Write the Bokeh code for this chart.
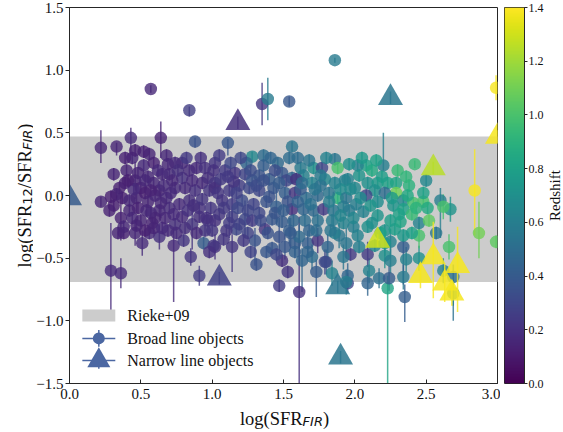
import math
import numpy as np
from bokeh.plotting import figure
from bokeh.models import ColumnDataSource, LinearColorMapper, FixedTicker, Label, Range1d
from bokeh.transform import transform
from bokeh.palettes import Viridis256
from bokeh.layouts import row, column
from bokeh.embed import file_html
from bokeh.resources import INLINE
from bokeh.core.properties import value

# ---------------- data ----------------
# Broad line objects
bl_x = [0.57, 0.84, 1.35, 1.39, 1.54, 1.86, 2.99, 0.22, 0.33, 0.43,
        0.64, 0.88, 1.11, 1.56, 1.28, 1.36, 0.31, 1.86, 2.20, 2.42,
        2.08, 2.84, 0.22, 0.29, 0.36, 0.91, 1.47, 1.61, 0.73, 0.85,
        2.23, 2.35, 2.69, 2.87, 2.99, 2.66, 2.62, 2.36, 2.45, 2.34,
        2.17, 2.09, 1.95, 2.25, 2.34, 2.50, 2.60, 2.67, 2.62, 2.45,
        2.69, 2.21, 2.21, 2.24, 2.10, 1.97, 2.09, 1.95, 2.25, 1.94,
        1.84, 1.80, 1.73, 1.53, 1.49, 1.31, 1.38, 1.30, 1.14, 1.02,
        0.94, 1.01, 0.80, 0.63, 0.56, 0.46, 0.38, 1.70, 1.63, 1.58,
        1.67, 1.74, 1.51, 1.79, 1.92, 1.81, 1.89, 1.61, 1.54, 1.37,
        1.17, 2.03, 2.14, 2.40, 2.21, 2.28, 2.09, 1.99, 2.34, 2.32,
        0.35, 0.39, 0.46, 0.50, 0.37, 0.42, 0.47, 0.53, 0.59, 0.44,
        0.46, 0.56, 0.52, 0.59, 0.42, 0.36, 0.44, 0.50, 0.53, 0.57,
        0.31, 0.33, 0.28, 0.40, 0.55, 0.48, 0.55, 0.58, 0.38, 0.51,
        0.45, 0.60,
        0.65, 0.70, 0.63, 0.68, 0.74, 0.79, 0.84, 0.89, 0.95, 0.68,
        0.74, 0.79, 0.63, 0.70, 0.59, 0.65, 0.97, 0.74, 0.79, 0.86,
        0.91, 0.95, 0.77, 0.84, 0.88, 0.93, 0.98, 0.86, 0.72, 0.91,
        0.99, 0.97, 0.82, 0.66, 0.75, 0.92, 0.89, 0.67, 0.83,
        1.02, 1.01, 1.09, 1.16, 1.23, 1.02, 1.02, 1.12, 1.19, 1.26,
        1.07, 1.14, 1.21, 1.29, 1.02, 1.05, 1.14, 1.23, 1.28, 1.24,
        1.06, 1.18, 1.10, 1.25, 1.20, 1.15, 1.28, 1.00, 1.22,
        1.33, 1.40, 1.49, 1.56, 1.33, 1.43, 1.51, 1.58, 1.38, 1.45,
        1.56, 1.34, 1.42, 1.49, 1.57, 1.36, 1.46, 1.52, 1.47, 1.54,
        1.44, 1.33, 1.53, 1.42, 1.58,
        1.64, 1.59, 1.70, 1.71, 1.77, 1.79, 1.88, 1.88, 1.93, 1.66,
        1.74, 1.82, 1.64, 1.71, 1.78, 1.85, 1.92, 1.65, 1.74, 1.84,
        1.92, 1.68, 1.80, 1.62, 1.76, 1.90, 1.68, 1.86, 1.62,
        2.02, 1.95, 2.03, 2.09, 2.16, 2.23, 2.29, 2.29, 2.34, 2.41,
        2.48, 2.00, 2.14, 2.21, 2.08, 1.94, 2.01, 2.16, 2.27, 2.34,
        1.96, 2.06, 2.16, 2.25, 2.45, 2.12, 2.30, 2.38, 2.05, 2.40,
        2.18, 2.52, 2.48, 2.57,
        0.48, 0.53, 0.62, 0.57, 0.64, 0.71, 0.76, 0.81, 0.87, 0.73,
        0.60, 0.54, 0.47, 0.69, 0.81, 0.93, 0.96, 1.04, 1.08, 1.11,
        1.17, 1.12, 1.19, 1.25, 1.27, 1.31, 1.36, 1.40, 1.47, 1.44,
        1.50, 1.39, 1.55, 1.60, 1.63, 1.69, 1.73, 1.76, 1.82, 1.86,
        1.83, 1.90, 1.97, 1.99, 2.04, 2.11, 2.19, 2.26, 2.31, 2.37,
        2.12, 2.02, 1.94, 1.67, 1.45, 1.27, 1.08, 0.98, 0.69, 0.52,
        0.41, 0.34, 0.29, 0.39, 1.05, 1.13, 1.41, 1.60, 1.72, 1.96,
        2.15, 2.36, 2.43, 2.51]
bl_y = [0.85, 0.68, 0.73, 0.77, 0.75, 1.08, 0.86, 0.38, 0.39, 0.46,
        0.46, 0.43, 0.42, 0.39, 0.31, 0.32, 0.17, 0.29, 0.24, 0.25,
        0.24, 0.04, -0.05, -0.60, -0.62, -0.64, -0.72, -0.77, -0.40, -0.49,
        -0.74, -0.81, -0.65, -0.30, -0.37, -0.41, -0.60, -0.51, -0.50, -0.65,
        -0.66, -0.70, -0.70, -0.37, -0.41, 0.12, -0.04, -0.11, -0.09, -0.32,
        -0.78, -0.38, -0.48, -0.66, -0.60, -0.47, -0.47, -0.64, -0.52, -0.69,
        -0.62, -0.53, -0.61, -0.61, -0.52, -0.55, -0.45, -0.36, -0.41, -0.41,
        -0.38, -0.40, -0.36, -0.33, -0.30, -0.30, -0.30, -0.49, -0.52, -0.38,
        -0.38, -0.36, -0.41, -0.53, -0.49, -0.41, -0.32, -0.33, -0.28, -0.27,
        -0.27, -0.41, -0.40, -0.30, -0.28, -0.27, -0.25, -0.25, -0.32, -0.21,
        0.06, 0.10, 0.12, 0.06, -0.02, -0.04, -0.02, 0.02, 0.10, 0.30,
        0.36, 0.33, 0.24, 0.26, -0.12, -0.18, -0.18, -0.20, -0.28, -0.14,
        -0.08, 0.01, -0.12, 0.20, 0.15, -0.10, -0.05, -0.22, -0.25, -0.38,
        0.05, 0.00,
        0.17, 0.17, 0.04, -0.02, 0.06, 0.14, 0.20, 0.22, 0.22, 0.32,
        0.26, 0.26, -0.12, -0.10, -0.26, -0.26, -0.20, -0.23, -0.17, -0.23,
        -0.17, -0.28, -0.07, -0.04, 0.04, 0.10, 0.04, 0.12, 0.12, -0.10,
        -0.10, 0.14, 0.30, 0.08, -0.30, 0.30, -0.30, -0.18, -0.12,
        0.26, 0.20, 0.20, 0.18, 0.17, 0.10, 0.06, 0.04, 0.08, 0.06,
        -0.04, -0.07, -0.04, -0.07, -0.20, -0.15, -0.17, -0.19, -0.20, 0.26,
        0.13, -0.10, -0.28, -0.30, 0.30, 0.11, 0.12, -0.28, -0.36,
        0.16, 0.13, 0.18, 0.14, 0.04, 0.06, 0.02, 0.02, -0.05, -0.09,
        -0.11, -0.20, -0.19, -0.21, -0.20, 0.24, 0.26, 0.12, -0.33, 0.30,
        0.20, -0.14, -0.05, -0.42, -0.45,
        0.16, 0.13, 0.10, 0.22, 0.22, 0.13, 0.22, -0.02, 0.12, -0.02,
        0.00, 0.02, -0.11, -0.12, -0.11, -0.12, -0.09, -0.20, -0.20, -0.20,
        -0.22, 0.28, 0.30, 0.05, 0.08, 0.05, -0.28, -0.30, 0.22,
        0.24, 0.13, 0.16, 0.10, 0.10, 0.10, 0.10, 0.02, -0.04, -0.06,
        -0.05, 0.06, 0.04, 0.02, 0.00, -0.02, -0.07, -0.05, -0.08, -0.11,
        -0.12, -0.13, -0.16, -0.20, -0.22, 0.20, 0.20, 0.08, 0.30, -0.15,
        -0.30, -0.20, 0.02, -0.30,
        0.18, 0.12, 0.20, 0.04, -0.06, 0.02, 0.20, 0.06, -0.08, -0.15,
        -0.18, -0.12, -0.24, -0.28, -0.26, -0.03, -0.18, 0.02, -0.10, 0.15,
        0.02, -0.22, -0.23, -0.12, 0.20, 0.08, 0.12, -0.01, 0.10, -0.14,
        -0.12, -0.30, -0.30, -0.05, 0.10, -0.07, -0.28, 0.16, -0.05, 0.10,
        -0.28, -0.16, 0.05, -0.18, -0.02, -0.08, 0.15, -0.02, -0.15, 0.00,
        -0.22, -0.32, -0.38, -0.45, -0.47, -0.45, -0.35, -0.45, 0.25, 0.35,
        0.12, -0.30, -0.01, 0.30, 0.32, 0.26, 0.30, 0.30, 0.05, 0.25,
        0.28, 0.15, -0.10, -0.10]
bl_z = [0.16, 0.26, 0.22, 0.58, 0.38, 0.58, 1.38, 0.15, 0.15, 0.18,
        0.14, 0.35, 0.38, 0.55, 0.65, 0.50, 0.15, 0.55, 0.60, 0.95,
        0.80, 1.38, 0.15, 0.17, 0.17, 0.25, 0.25, 0.20, 0.18, 0.22,
        0.82, 0.42, 0.52, 1.10, 1.05, 1.00, 0.62, 0.62, 0.70, 0.58,
        0.52, 0.45, 0.30, 0.62, 0.42, 0.65, 0.60, 0.72, 1.00, 1.00,
        0.60, 0.72, 0.70, 0.40, 0.62, 0.25, 0.25, 0.45, 0.60, 0.60,
        0.62, 0.38, 0.40, 0.22, 0.20, 0.35, 0.38, 0.35, 0.22, 0.20,
        0.40, 0.22, 0.22, 0.20, 0.18, 0.16, 0.14, 0.50, 0.45, 0.40,
        0.42, 0.22, 0.38, 0.30, 0.55, 0.45, 0.55, 0.48, 0.42, 0.22,
        0.30, 0.60, 0.65, 0.80, 0.72, 0.78, 0.70, 0.60, 0.75, 0.82,
        0.13, 0.14, 0.15, 0.14, 0.13, 0.16, 0.15, 0.13, 0.16, 0.16,
        0.14, 0.15, 0.17, 0.14, 0.15, 0.14, 0.16, 0.15, 0.13, 0.17,
        0.13, 0.15, 0.14, 0.15, 0.16, 0.14, 0.15, 0.14, 0.16, 0.18,
        0.17, 0.16,
        0.16, 0.18, 0.15, 0.17, 0.18, 0.20, 0.18, 0.17, 0.20, 0.16,
        0.18, 0.17, 0.16, 0.18, 0.15, 0.17, 0.21, 0.19, 0.18, 0.21,
        0.19, 0.22, 0.17, 0.19, 0.20, 0.18, 0.21, 0.17, 0.16, 0.20,
        0.22, 0.19, 0.24, 0.18, 0.18, 0.20, 0.18, 0.16, 0.20,
        0.22, 0.20, 0.24, 0.22, 0.28, 0.21, 0.19, 0.24, 0.26, 0.30,
        0.22, 0.25, 0.32, 0.28, 0.20, 0.22, 0.26, 0.30, 0.25, 0.45,
        0.23, 0.30, 0.22, 0.28, 0.30, 0.21, 0.35, 0.22, 0.24,
        0.35, 0.40, 0.38, 0.45, 0.30, 0.38, 0.42, 0.22, 0.35, 0.42,
        0.20, 0.32, 0.38, 0.40, 0.45, 0.42, 0.48, 0.30, 0.35, 0.50,
        0.33, 0.30, 0.36, 0.38, 0.43,
        0.62, 0.20, 0.62, 0.70, 0.30, 0.65, 1.00, 0.90, 0.62, 0.50,
        0.48, 0.55, 0.45, 0.48, 0.25, 0.55, 0.60, 0.50, 0.52, 0.58,
        0.62, 0.55, 0.62, 0.40, 0.52, 0.68, 0.45, 0.60, 0.58,
        0.62, 0.62, 0.72, 0.70, 0.75, 0.80, 0.82, 1.10, 0.65, 1.00,
        1.00, 0.65, 0.70, 0.50, 0.30, 0.55, 0.60, 0.68, 0.72, 0.80,
        0.58, 0.62, 0.72, 0.78, 0.62, 0.85, 0.95, 0.90, 0.75, 0.95,
        0.80, 1.05, 0.80, 0.55,
        0.15, 0.16, 0.17, 0.14, 0.16, 0.17, 0.19, 0.18, 0.19, 0.17,
        0.15, 0.16, 0.15, 0.18, 0.19, 0.21, 0.20, 0.22, 0.23, 0.24,
        0.27, 0.25, 0.27, 0.29, 0.33, 0.32, 0.34, 0.36, 0.40, 0.37,
        0.41, 0.36, 0.40, 0.44, 0.50, 0.52, 0.50, 0.58, 0.60, 0.62,
        0.55, 0.63, 0.66, 0.64, 0.68, 0.72, 0.78, 0.75, 0.80, 0.85,
        0.70, 0.62, 0.55, 0.45, 0.30, 0.28, 0.22, 0.20, 0.16, 0.14,
        0.13, 0.15, 0.13, 0.14, 0.25, 0.30, 0.45, 0.50, 0.55, 0.70,
        0.80, 0.92, 0.90, 0.85]
bl_err_lo = [0.03, 0.05, 0.17, 0.17, 0.04, 0.02, 0.10, 0.12, 0.07, 0.14,
             0.16, 0.05, 0.10, 0.04, 0.04, 0.05, 0.05, 0.05, 0.04, 0.03,
             0.05, 0.36, 0.04, 0.38, 0.12, 0.08, 0.05, 0.75, 0.45, 0.07,
             0.76, 0.20, 0.35, 0.20, 0.05, 0.10, 0.10, 0.10, 0.10, 0.10,
             0.08, 0.10, 0.08, 0.10, 0.30, 0.05, 0.30, 0.10, 0.10, 0.10,
             0.10, 0.10, 0.10, 0.10, 0.10, 0.05, 0.10, 0.10, 0.10, 0.10,
             0.10, 0.10, 0.20, 0.05, 0.05, 0.05, 0.05, 0.20, 0.20, 0.10,
             0.05, 0.05, 0.05, 0.10, 0.05, 0.10, 0.05, 0.10, 0.25, 0.10,
             0.10, 0.10, 0.10, 0.10, 0.10, 0.10, 0.10, 0.10, 0.10, 0.05,
             0.05, 0.05, 0.05, 0.05, 0.05, 0.05, 0.05, 0.05, 0.05, 0.05,
             0.05, 0.05, 0.15, 0.05, 0.05, 0.05, 0.12, 0.05, 0.05, 0.05,
             0.05, 0.05, 0.05, 0.05, 0.05, 0.18, 0.05, 0.05, 0.05, 0.05,
             0.05, 0.05, 0.05, 0.05, 0.05, 0.05, 0.05, 0.05, 0.05, 0.10,
             0.05, 0.05,
             0.05, 0.05, 0.05, 0.05, 0.05, 0.05, 0.05, 0.05, 0.05, 0.05,
             0.05, 0.05, 0.05, 0.05, 0.05, 0.05, 0.05, 0.05, 0.05, 0.20,
             0.05, 0.05, 0.05, 0.05, 0.05, 0.05, 0.05, 0.05, 0.05, 0.05,
             0.05, 0.05, 0.05, 0.05, 0.05, 0.05, 0.05, 0.05, 0.05,
             0.05, 0.05, 0.05, 0.05, 0.05, 0.05, 0.05, 0.05, 0.05, 0.05,
             0.05, 0.15, 0.05, 0.05, 0.05, 0.05, 0.05, 0.15, 0.05, 0.05,
             0.05, 0.05, 0.05, 0.05, 0.05, 0.05, 0.05, 0.05, 0.05,
             0.05, 0.05, 0.05, 0.05, 0.05, 0.05, 0.05, 0.05, 0.05, 0.15,
             0.05, 0.05, 0.05, 0.05, 0.05, 0.05, 0.05, 0.05, 0.15, 0.05,
             0.05, 0.05, 0.05, 0.05, 0.05,
             0.05, 0.05, 0.05, 0.05, 0.05, 0.05, 0.05, 0.05, 0.05, 0.05,
             0.05, 0.05, 0.05, 0.05, 0.05, 0.15, 0.05, 0.05, 0.05, 0.05,
             0.05, 0.05, 0.05, 0.05, 0.05, 0.05, 0.05, 0.05, 0.05,
             0.05, 0.05, 0.05, 0.05, 0.05, 0.05, 0.05, 0.05, 0.05, 0.05,
             0.05, 0.05, 0.05, 0.05, 0.05, 0.05, 0.05, 0.05, 0.05, 0.05,
             0.05, 0.05, 0.05, 0.05, 0.05, 0.05, 0.05, 0.05, 0.05, 0.05,
             0.05, 0.05, 0.05, 0.05,
             0.05, 0.05, 0.05, 0.05, 0.12, 0.05, 0.05, 0.05, 0.05, 0.05,
             0.05, 0.05, 0.05, 0.05, 0.05, 0.05, 0.05, 0.05, 0.05, 0.05,
             0.05, 0.12, 0.05, 0.05, 0.05, 0.05, 0.05, 0.05, 0.05, 0.05,
             0.05, 0.05, 0.12, 0.05, 0.05, 0.05, 0.05, 0.05, 0.05, 0.05,
             0.05, 0.05, 0.05, 0.05, 0.05, 0.05, 0.05, 0.05, 0.05, 0.05,
             0.05, 0.05, 0.12, 0.05, 0.05, 0.05, 0.05, 0.05, 0.05, 0.05,
             0.05, 0.05, 0.05, 0.05, 0.05, 0.05, 0.05, 0.05, 0.05, 0.05,
             0.05, 0.05, 0.05, 0.05]
bl_err_hi = [0.03, 0.03, 0.17, 0.17, 0.04, 0.02, 0.10, 0.14, 0.03, 0.08,
             0.13, 0.03, 0.03, 0.04, 0.04, 0.05, 0.05, 0.05, 0.26, 0.03,
             0.05, 0.33, 0.04, 0.38, 0.12, 0.08, 0.05, 0.60, 0.15, 0.07,
             0.10, 0.10, 0.10, 0.25, 0.05, 0.10, 0.10, 0.10, 0.10, 0.10,
             0.08, 0.10, 0.08, 0.10, 0.10, 0.05, 0.10, 0.10, 0.10, 0.10,
             0.10, 0.10, 0.10, 0.10, 0.10, 0.05, 0.10, 0.10, 0.10, 0.10,
             0.10, 0.10, 0.10, 0.05, 0.05, 0.05, 0.05, 0.10, 0.10, 0.10,
             0.05, 0.05, 0.05, 0.10, 0.05, 0.10, 0.05, 0.10, 0.10, 0.10,
             0.10, 0.10, 0.10, 0.10, 0.10, 0.10, 0.10, 0.10, 0.10, 0.05,
             0.05, 0.05, 0.05, 0.05, 0.05, 0.05, 0.05, 0.05, 0.05, 0.05,
             0.05, 0.05, 0.15, 0.05, 0.05, 0.05, 0.12, 0.05, 0.05, 0.05,
             0.05, 0.05, 0.05, 0.05, 0.05, 0.18, 0.05, 0.05, 0.05, 0.05,
             0.05, 0.05, 0.05, 0.05, 0.05, 0.05, 0.05, 0.05, 0.05, 0.10,
             0.05, 0.05,
             0.05, 0.05, 0.05, 0.05, 0.05, 0.05, 0.05, 0.05, 0.05, 0.05,
             0.05, 0.05, 0.05, 0.05, 0.05, 0.05, 0.05, 0.05, 0.05, 0.20,
             0.05, 0.05, 0.05, 0.05, 0.05, 0.05, 0.05, 0.05, 0.05, 0.05,
             0.05, 0.05, 0.05, 0.05, 0.05, 0.05, 0.05, 0.05, 0.05,
             0.05, 0.05, 0.05, 0.05, 0.05, 0.05, 0.05, 0.05, 0.05, 0.05,
             0.05, 0.15, 0.05, 0.05, 0.05, 0.05, 0.05, 0.15, 0.05, 0.05,
             0.05, 0.05, 0.05, 0.05, 0.05, 0.05, 0.05, 0.05, 0.05,
             0.05, 0.05, 0.05, 0.05, 0.05, 0.05, 0.05, 0.05, 0.05, 0.15,
             0.05, 0.05, 0.05, 0.05, 0.05, 0.05, 0.05, 0.05, 0.15, 0.05,
             0.05, 0.05, 0.05, 0.05, 0.05,
             0.05, 0.05, 0.05, 0.05, 0.05, 0.05, 0.05, 0.05, 0.05, 0.05,
             0.05, 0.05, 0.05, 0.05, 0.05, 0.15, 0.05, 0.05, 0.05, 0.05,
             0.05, 0.05, 0.05, 0.05, 0.05, 0.05, 0.05, 0.05, 0.05,
             0.05, 0.05, 0.05, 0.05, 0.05, 0.05, 0.05, 0.05, 0.05, 0.05,
             0.05, 0.05, 0.05, 0.05, 0.05, 0.05, 0.05, 0.05, 0.05, 0.05,
             0.05, 0.05, 0.05, 0.05, 0.05, 0.05, 0.05, 0.05, 0.05, 0.05,
             0.05, 0.05, 0.05, 0.05,
             0.05, 0.05, 0.05, 0.05, 0.12, 0.05, 0.05, 0.05, 0.05, 0.05,
             0.05, 0.05, 0.05, 0.05, 0.05, 0.05, 0.05, 0.05, 0.05, 0.05,
             0.05, 0.12, 0.05, 0.05, 0.05, 0.05, 0.05, 0.05, 0.05, 0.05,
             0.05, 0.05, 0.12, 0.05, 0.05, 0.05, 0.05, 0.05, 0.05, 0.05,
             0.05, 0.05, 0.05, 0.05, 0.05, 0.05, 0.05, 0.05, 0.05, 0.05,
             0.05, 0.05, 0.12, 0.05, 0.05, 0.05, 0.05, 0.05, 0.05, 0.05,
             0.05, 0.05, 0.05, 0.05, 0.05, 0.05, 0.05, 0.05, 0.05, 0.05,
             0.05, 0.05, 0.05, 0.05]

# Narrow line objects
nl_x = [0.00, 1.18, 2.25, 2.55, 3.00, 1.05, 1.88, 1.90, 2.16, 2.55, 2.46, 2.72, 2.63, 2.68]
nl_y = [-0.02, 0.58, 0.78, 0.22, 0.47, -0.66, -0.73, -1.29, -0.36, -0.49, -0.64, -0.56, -0.70, -0.78]
nl_z = [0.40, 0.20, 0.55, 1.25, 1.38, 0.27, 0.55, 0.55, 1.30, 1.38, 1.38, 1.38, 1.38, 1.38]
nl_err_lo = [0.05, 0.05, 0.05, 0.05, 0.05, 0.05, 0.05, 0.05, 0.05, 0.33, 0.10, 0.37, 0.15, 0.10]
nl_err_hi = [0.05, 0.05, 0.05, 0.05, 0.05, 0.05, 0.05, 0.05, 0.05, 0.28, 0.10, 0.31, 0.15, 0.10]

# Rieke+09 band
rieke_lo = -0.69
rieke_hi = 0.47

x_ticks = [0.0, 0.5, 1.0, 1.5, 2.0, 2.5, 3.0]
y_ticks = [-1.5, -1.0, -0.5, 0.0, 0.5, 1.0, 1.5]
z_ticks = [0.0, 0.2, 0.4, 0.6, 0.8, 1.0, 1.2, 1.4]
legend_labels = ["Rieke+09", "Broad line objects", "Narrow line objects"]
z_low, z_high = 0.0, 1.4

# ---------------- styling ----------------
SERIF = "Liberation Serif"
SANS = "DejaVu Sans"
AXC = "#262626"
TXT = "#111111"
LEG_COLOR = "#4b67a2"

def fmt(t):
    return f"{t:.1f}".replace("-", "\u2212")

n = min(len(bl_x), len(bl_y), len(bl_z), len(bl_err_lo), len(bl_err_hi))
bx = np.array(bl_x[:n]); by = np.array(bl_y[:n]); bz = np.array(bl_z[:n])
src_bl = ColumnDataSource(dict(x=bx, y=by, z=bz,
                               lo=by - np.array(bl_err_lo[:n]), hi=by + np.array(bl_err_hi[:n])))
ny = np.array(nl_y)
src_nl = ColumnDataSource(dict(x=nl_x, y=nl_y, z=nl_z,
                               lo=ny - np.array(nl_err_lo), hi=ny + np.array(nl_err_hi)))

mapper = LinearColorMapper(palette=Viridis256, low=z_low, high=z_high)

X0, X1 = 0.0, 3.0
Y0, Y1 = -1.5, 1.5

# page geometry (frame of the main plot: x 67..497, y 7..383)
TOTAL_H = 432
YLAB_W = 33
MAIN_W, MAIN_H = 467, 410
FL, FR, FT, FB = 34, 3, 7, 27
XLAB_H = TOTAL_H - MAIN_H
CB_W, RLAB_W = 46, 17
FW, FH = MAIN_W - FL - FR, MAIN_H - FT - FB
SIDE_B = TOTAL_H - FT - FH  # bottom border of full-height strips

def blank(w, h, left=0, right=0, top=0, bottom=0):
    f = figure(width=w, height=h, x_range=Range1d(0, 1), y_range=Range1d(0, 1),
               output_backend="svg", toolbar_location=None,
               x_axis_location=None, y_axis_location=None,
               min_border=0, min_border_left=left, min_border_right=right,
               min_border_top=top, min_border_bottom=bottom)
    f.grid.visible = False
    f.outline_line_color = None
    f.background_fill_color = "white"
    f.border_fill_color = "white"
    return f

p = figure(width=MAIN_W, height=MAIN_H, x_range=Range1d(X0, X1), y_range=Range1d(Y0, Y1),
           output_backend="svg", toolbar_location=None,
           min_border_left=FL, min_border_right=FR, min_border_top=FT, min_border_bottom=FB)
p.xgrid.visible = False
p.ygrid.visible = False
p.outline_line_color = AXC
p.outline_line_width = 1
p.background_fill_color = "white"
p.border_fill_color = "white"

for ax in (p.xaxis[0], p.yaxis[0]):
    ax.axis_line_color = AXC
    ax.major_tick_line_color = AXC
    ax.minor_tick_line_color = None
    ax.major_label_text_font = SERIF
    ax.major_label_text_font_size = "15px"
    ax.major_label_text_color = TXT
p.xaxis.ticker = FixedTicker(ticks=x_ticks)
p.xaxis.major_label_overrides = {t: fmt(t) for t in x_ticks}
p.xaxis.major_tick_in = 4
p.xaxis.major_tick_out = 0
p.xaxis.major_label_standoff = 5
p.yaxis.ticker = FixedTicker(ticks=y_ticks)
p.yaxis.major_label_overrides = {t: fmt(t) for t in y_ticks}
p.yaxis.major_tick_in = 0
p.yaxis.major_tick_out = 4
p.yaxis.major_label_standoff = 2

# Rieke band
p.quad(left=[X0], right=[X1], bottom=[rieke_lo], top=[rieke_hi],
       fill_color="#cccccc", line_color=None)

# error bars + markers
p.segment(x0="x", y0="lo", x1="x", y1="hi", source=src_bl,
          line_color=transform("z", mapper), line_alpha=0.8, line_width=1.5)
p.scatter(x="x", y="y", source=src_bl, marker="circle", size=12.5,
          fill_color=transform("z", mapper), fill_alpha=0.8, line_color=None)
p.segment(x0="x", y0="lo", x1="x", y1="hi", source=src_nl,
          line_color=transform("z", mapper), line_alpha=0.8, line_width=1.5)
p.scatter(x="x", y="y", source=src_nl, marker="triangle", size=25,
          fill_color=transform("z", mapper), fill_alpha=0.85, line_color=None)

# ---------------- legend (axes-fraction positions) ----------------
def fx(f):
    return X0 + f * (X1 - X0)

def fy(f):
    return Y0 + f * (Y1 - Y0)

leg_rows = [0.181, 0.120, 0.061]
gx0, gx1, gxc = fx(0.030), fx(0.107), fx(0.0685)
p.quad(left=[gx0], right=[gx1], bottom=[fy(0.165)], top=[fy(0.197)],
       fill_color="#cccccc", line_color=None)
p.segment(x0=[gx0, gx0], y0=[fy(leg_rows[1]), fy(leg_rows[2])],
          x1=[gx1, gx1], y1=[fy(leg_rows[1]), fy(leg_rows[2])],
          line_color=LEG_COLOR, line_width=1.5)
p.segment(x0=[gxc, gxc], y0=[fy(leg_rows[1] - 0.022), fy(leg_rows[2] - 0.022)],
          x1=[gxc, gxc], y1=[fy(leg_rows[1] + 0.022), fy(leg_rows[2] + 0.022)],
          line_color=LEG_COLOR, line_width=1.5)
p.scatter(x=[gxc], y=[fy(leg_rows[1])], marker="circle", size=12,
          fill_color=LEG_COLOR, line_color=None)
p.scatter(x=[gxc], y=[fy(leg_rows[2])], marker="triangle", size=23,
          fill_color=LEG_COLOR, line_color=None)
p.text(x=[fx(0.135)] * 3, y=[fy(r) for r in leg_rows], text=legend_labels,
       text_font=value(SERIF), text_font_size="16px", text_baseline="middle",
       text_color=TXT)

# ---------------- axis titles with sub-scripts ----------------
TIMES_W = {"l": .278, "o": .5, "g": .5, "(": .333, ")": .333, "S": .556, "F": .556,
           "R": .667, "/": .278}
DJV_W = {"F": .575, "I": .295, "R": .695, "1": .636, "2": .636}
MAIN_PX, SUB_PX = 18.5, 13.0

def width(s, table, px):
    return sum(table.get(c, 0.5) for c in s) * px

def pieces_for(parts):
    out = []
    for txt, kind in parts:
        if kind == "main":
            out.append((txt, SERIF, MAIN_PX, "normal", width(txt, TIMES_W, MAIN_PX), False))
        elif kind == "subi":
            out.append((txt, SANS, SUB_PX, "italic", width(txt, DJV_W, SUB_PX), True))
        else:
            out.append((txt, SANS, SUB_PX, "normal", width(txt, DJV_W, SUB_PX), True))
    return out

# x title: strip under the main plot, same side borders so its frame lines up
xlab = blank(MAIN_W, XLAB_H, left=FL, right=FR)
xparts = pieces_for([("log(SFR", "main"), ("FIR", "subi"), (")", "main")])
total = sum(pc[4] for pc in xparts)
cur = FW / 2 - total / 2
base = 14
for txt, font, px, style, w, sub in xparts:
    xlab.add_layout(Label(x=cur, y=base - (3 if sub else 0), x_units="screen", y_units="screen",
                          text=txt, text_font=font, text_font_size=f"{px}px", text_font_style=style,
                          text_align="left", text_baseline="alphabetic", text_color=TXT))
    cur += w

# y title: strip left of the main plot, reading upwards
ylab = blank(YLAB_W, TOTAL_H, top=FT, bottom=SIDE_B)
yparts = pieces_for([("log(SFR", "main"), ("12", "sub"), ("/SFR", "main"), ("FIR", "subi"), (")", "main")])
total = sum(pc[4] for pc in yparts)
cur = FH / 2 - total / 2
basex = 24
for txt, font, px, style, w, sub in yparts:
    ylab.add_layout(Label(x=basex + (2.5 if sub else 0), y=cur, x_units="screen", y_units="screen",
                          angle=math.pi / 2, text=txt, text_font=font, text_font_size=f"{px}px",
                          text_font_style=style, text_align="left", text_baseline="alphabetic",
                          text_color=TXT))
    cur += w

# ---------------- colour bar ----------------
cb = figure(width=CB_W, height=TOTAL_H, x_range=Range1d(0, 1), y_range=Range1d(z_low, z_high),
            output_backend="svg", toolbar_location=None, y_axis_location="right",
            x_axis_location=None,
            min_border_left=4, min_border_right=CB_W - 4 - 24, min_border_top=FT,
            min_border_bottom=SIDE_B)
cb.xgrid.visible = False
cb.ygrid.visible = False
grad = np.linspace(z_low, z_high, 256).reshape(-1, 1)
cb.image(image=[grad], x=0, y=z_low, dw=1, dh=z_high - z_low, color_mapper=mapper)
cb.outline_line_color = AXC
cb.yaxis.ticker = FixedTicker(ticks=z_ticks)
cb.yaxis.major_label_overrides = {t: fmt(t) for t in z_ticks}
cb.yaxis.axis_line_color = AXC
cb.yaxis.major_tick_line_color = AXC
cb.yaxis.minor_tick_line_color = None
cb.yaxis.major_tick_in = 0
cb.yaxis.major_tick_out = 3
cb.yaxis.major_label_standoff = 1
cb.yaxis.major_label_text_font = SERIF
cb.yaxis.major_label_text_font_size = "12px"
cb.yaxis.major_label_text_color = TXT

rlab = blank(RLAB_W, TOTAL_H, top=FT, bottom=SIDE_B)
rlab.add_layout(Label(x=RLAB_W / 2, y=FH / 2, x_units="screen", y_units="screen",
                      angle=math.pi / 2, text="Redshift", text_font=SERIF, text_font_size="15px",
                      text_align="center", text_baseline="middle", text_color=TXT))

layout = row(ylab, column(p, xlab), cb, rlab)
open("out.html", "w").write(file_html(layout, INLINE))
